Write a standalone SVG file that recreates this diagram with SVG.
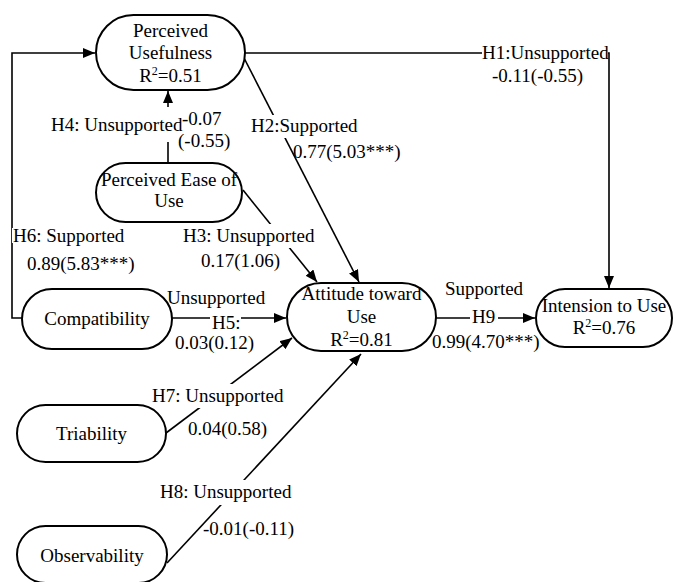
<svg xmlns="http://www.w3.org/2000/svg" width="674" height="582" viewBox="0 0 674 582">
<style>
text{font-family:'Liberation Serif','Times New Roman',serif;font-size:19px;fill:#000}
.n{fill:#fff;stroke:#000;stroke-width:2}
.c{fill:none;stroke:#000;stroke-width:1.6}
.m{text-anchor:middle}
.bg{fill:#fff}
.sup{font-size:12px}
</style>
<defs>
<marker id="ah" markerUnits="userSpaceOnUse" markerWidth="13" markerHeight="11" refX="12" refY="5" orient="auto">
<path d="M0,0 L12,5 L0,10 z" fill="#000"/>
</marker>
</defs>
<rect width="674" height="582" fill="#fff"/>
<g id="connectors">
<path class="c" d="M22,318 H12 V53 H95" marker-end="url(#ah)"/>
<path class="c" d="M245,53 H609 V288" marker-end="url(#ah)"/>
<path class="c" d="M243,56 L359,282" marker-end="url(#ah)"/>
<path class="c" d="M168,163 V91" marker-end="url(#ah)"/>
<path class="c" d="M243,190 L317,282" marker-end="url(#ah)"/>
<path class="c" d="M172,318 H286" marker-end="url(#ah)"/>
<path class="c" d="M436,318 H535" marker-end="url(#ah)"/>
<path class="c" d="M166,433 L292,338" marker-end="url(#ah)"/>
<path class="c" d="M167,563 L361,354" marker-end="url(#ah)"/>
</g>
<g id="labels">
<rect class="bg" x="482" y="44" width="126" height="18"/>
<text x="482" y="59">H1:Unsupported</text>
<text x="492" y="82">-0.11(-0.55)</text>
<rect class="bg" x="250" y="115" width="108" height="23"/>
<text x="251" y="132">H2:Supported</text>
<text x="293" y="158">0.77(5.03***)</text>
<rect class="bg" x="183" y="224" width="133" height="24"/>
<text x="183" y="242">H3: Unsupported</text>
<text x="201" y="267">0.17(1.06)</text>
<rect class="bg" x="50" y="107" width="126" height="35"/>
<text x="51" y="131">H4: Unsupported</text>
<text x="182" y="125">-0.07</text>
<text x="178" y="147">(-0.55)</text>
<rect class="bg" x="12" y="228" width="111" height="15"/>
<text x="13" y="242">H6: Supported</text>
<text x="27" y="270">0.89(5.83***)</text>
<text x="167" y="304">Unsupported</text>
<rect class="bg" x="210" y="313" width="31" height="18"/>
<text x="212" y="329">H5:</text>
<text x="175" y="349">0.03(0.12)</text>
<text x="445" y="295">Supported</text>
<rect class="bg" x="470" y="310" width="28" height="16"/>
<text x="472" y="323">H9</text>
<text x="432" y="348">0.99(4.70***)</text>
<rect class="bg" x="152" y="384" width="134" height="24"/>
<text x="152" y="402">H7: Unsupported</text>
<text x="188" y="435">0.04(0.58)</text>
<rect class="bg" x="160" y="480" width="133" height="25"/>
<text x="160" y="498">H8: Unsupported</text>
<text x="203" y="535">-0.01(-0.11)</text>
</g>
<g id="pu">
<rect class="n" x="96" y="15" width="149" height="75" rx="37.5"/>
<text class="m" x="170.5" y="37">Perceived</text>
<text class="m" x="170.5" y="59">Usefulness</text>
<text class="m" x="170.5" y="82">R<tspan class="sup" dy="-7">2</tspan><tspan dy="7">=0.51</tspan></text>
</g>
<g id="peou">
<rect class="n" x="96" y="163" width="146" height="59" rx="29.5"/>
<text class="m" x="169" y="186">Perceived Ease of</text>
<text class="m" x="169" y="207">Use</text>
</g>
<g id="compat">
<rect class="n" x="22" y="289" width="150" height="60" rx="30"/>
<text class="m" x="97" y="325">Compatibility</text>
</g>
<g id="attitude">
<rect class="n" x="287" y="283" width="149" height="68" rx="34"/>
<text class="m" x="361.5" y="300">Attitude toward</text>
<text class="m" x="361.5" y="323">Use</text>
<text class="m" x="361.5" y="346">R<tspan class="sup" dy="-7">2</tspan><tspan dy="7">=0.81</tspan></text>
</g>
<g id="intension">
<rect class="n" x="536" y="289" width="136" height="58" rx="29"/>
<text class="m" x="604" y="312">Intension to Use</text>
<text class="m" x="604" y="334">R<tspan class="sup" dy="-7">2</tspan><tspan dy="7">=0.76</tspan></text>
</g>
<g id="triability">
<rect class="n" x="17" y="405" width="149" height="57" rx="28.5"/>
<text class="m" x="91.5" y="440">Triability</text>
</g>
<g id="observability">
<rect class="n" x="17" y="526" width="150" height="57" rx="28.5"/>
<text class="m" x="92" y="562">Observability</text>
</g>
</svg>
